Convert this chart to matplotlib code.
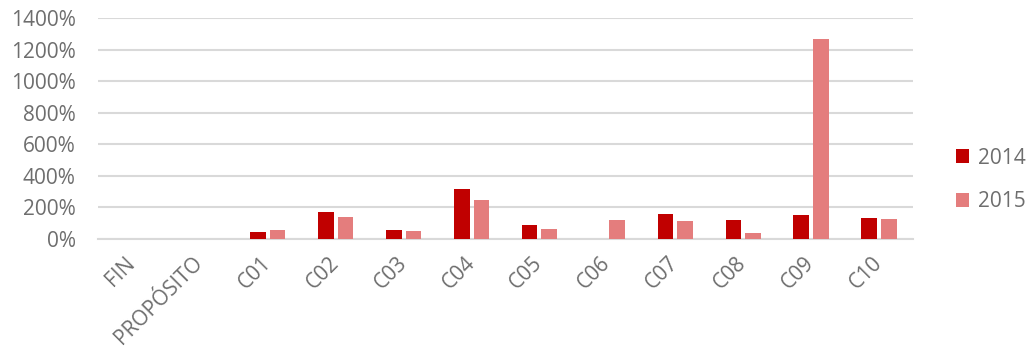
import numpy as np
import matplotlib.pyplot as plt
from matplotlib.ticker import FuncFormatter

categorias = ['FIN', 'PROPÓSITO', 'C01', 'C02', 'C03', 'C04', 'C05', 'C06',
              'C07', 'C08', 'C09', 'C10']
valores_2014 = [0, 0, 45, 171, 55, 317, 89, 0, 158, 120, 150, 133]
valores_2015 = [0, 0, 55, 141, 50, 249, 65, 118, 116, 38, 1265, 129]

gris = '#6E6E6E'
plt.rcParams['font.family'] = ['Open Sans', 'DejaVu Sans']

fig = plt.figure(figsize=(10.34, 3.52), dpi=100)
ax = fig.add_axes([98 / 1034, 1 - 239 / 352, (913 - 98) / 1034, (239 - 18) / 352])

x = np.arange(len(categorias))
ancho = 0.23
ax.bar(x - 0.145, valores_2014, ancho, color='#C00000', label='2014', zorder=3)
ax.bar(x + 0.145, valores_2015, ancho, color='#E47D7D', label='2015', zorder=3)

ax.set_xlim(-0.5, len(categorias) - 0.5)
ax.set_ylim(0, 1400)
ax.set_yticks(range(0, 1401, 200))
ax.yaxis.set_major_formatter(FuncFormatter(lambda v, p: f'{int(v)}%'))
ax.grid(axis='y', color='#D9D9D9', linewidth=1.5, zorder=0)
for s in ['top', 'right', 'left']:
    ax.spines[s].set_visible(False)
ax.spines['bottom'].set_color('#D9D9D9')
ax.spines['bottom'].set_linewidth(1.5)
ax.tick_params(length=0, colors=gris, labelsize=15)
ax.tick_params(axis='y', pad=16)
ax.set_xticks(x)
ax.set_xticklabels(categorias, rotation=45, ha='right', va='center',
                   rotation_mode='anchor')
ax.tick_params(axis='x', pad=15)

leg = fig.legend(loc='center left', bbox_to_anchor=(937 / 1034, 1 - 180 / 352),
                 frameon=False, fontsize=15, handlelength=0.65, handleheight=0.65,
                 labelspacing=1.1, handletextpad=0.4)
for t in leg.get_texts():
    t.set_color(gris)

fig.savefig('out.png', dpi=100)
